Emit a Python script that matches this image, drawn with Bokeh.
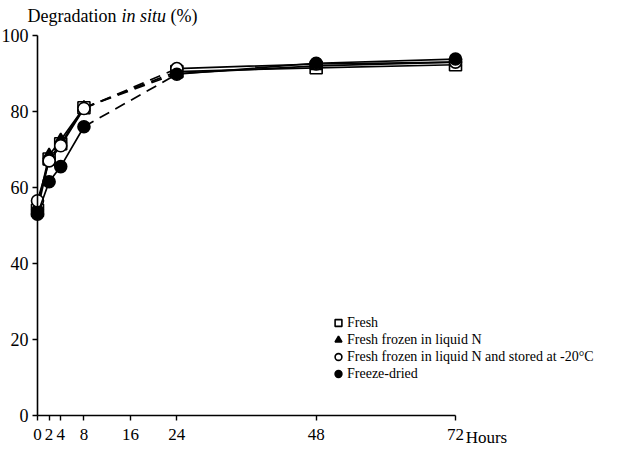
from bokeh.plotting import figure
from bokeh.models import Range1d, LinearAxis, FixedTicker, Label, Legend, LegendItem
from bokeh.embed import file_html
from bokeh.resources import INLINE

# ---- data ----
hours = [0, 2, 4, 8, 24, 48, 72]
fresh = [54.0, 67.5, 71.5, 81.0, 90.5, 91.5, 92.3]
frozen_n = [55.0, 68.5, 72.5, 81.0, 90.0, 92.0, 93.0]
frozen_stored = [56.5, 67.0, 71.0, 80.8, 91.3, 92.5, 93.0]
freeze_dried = [53.0, 61.5, 65.5, 76.0, 89.8, 92.7, 93.8]
series_names = ["Fresh", "Fresh frozen in liquid N",
                "Fresh frozen in liquid N and stored at -20\u00b0C", "Freeze-dried"]
x_ticks = [0, 2, 4, 8, 16, 24, 48, 72]
y_ticks = [0, 20, 40, 60, 80, 100]

FONT = "Liberation Serif"

p = figure(width=629, height=449, min_border=0, title=None,
           x_range=Range1d(-6.373, 101.97), y_range=Range1d(-8.947, 109.21),
           x_axis_location=None, y_axis_location=None,
           toolbar_location=None, output_backend="svg")
p.outline_line_color = None
p.grid.visible = False
p.background_fill_color = "white"

def style_axis(ax):
    ax.axis_line_width = 1.6
    ax.axis_line_color = "black"
    ax.major_tick_line_width = 1.4
    ax.major_tick_line_color = "black"
    ax.major_tick_in = 0
    ax.major_tick_out = 5
    ax.minor_tick_line_color = None
    ax.major_label_text_font = FONT
    ax.major_label_text_font_size = "17px"
    ax.major_label_text_color = "black"

xaxis = LinearAxis(ticker=FixedTicker(ticks=x_ticks), fixed_location=0, bounds=(0, 72))
style_axis(xaxis)
xaxis.major_label_standoff = 8
p.add_layout(xaxis, "below")

yaxis = LinearAxis(ticker=FixedTicker(ticks=y_ticks), fixed_location=0, bounds=(0, 100))
style_axis(yaxis)
yaxis.major_label_text_font_size = "18px"
yaxis.major_label_standoff = 4
p.add_layout(yaxis, "left")

early = slice(0, 4)
gap = slice(3, 5)
late = slice(4, 7)

def add_series(vals, marker, fill):
    for sl, dash in ((early, "solid"), (late, "solid"), (gap, "11 7")):
        p.line(hours[sl], vals[sl], line_color="black", line_width=1.7, line_dash=dash)
    return p.scatter(hours, vals, marker=marker, size=12, line_color="black",
                     line_width=1.6, fill_color=fill)

r_fresh = add_series(fresh, "square", "white")
r_frozen = add_series(frozen_n, "triangle", "black")
r_stored = add_series(frozen_stored, "circle", "white")
r_dried = add_series(freeze_dried, "circle", "black")

legend = Legend(items=[LegendItem(label=series_names[0], renderers=[r_fresh]),
                       LegendItem(label=series_names[1], renderers=[r_frozen]),
                       LegendItem(label=series_names[2], renderers=[r_stored]),
                       LegendItem(label=series_names[3], renderers=[r_dried])],
                location=(329, 67), padding=0, margin=0, spacing=0,
                glyph_width=18, glyph_height=17, label_standoff=0, label_height=17,
                border_line_color=None, background_fill_alpha=0,
                label_text_font=FONT, label_text_font_size="14px",
                label_text_color="black")
p.add_layout(legend, "center")

# title text: "Degradation in situ (%)"
p.add_layout(Label(x=-1.722, y=105.26, text="Degradation", text_font=FONT,
                   text_font_size="18px", text_baseline="middle", text_color="black"))
p.add_layout(Label(x=14.47, y=105.26, text="in situ", text_font=FONT, text_font_style="italic",
                   text_font_size="18px", text_baseline="middle", text_color="black"))
p.add_layout(Label(x=22.90, y=105.26, text="(%)", text_font=FONT,
                   text_font_size="18px", text_baseline="middle", text_color="black"))
# x-axis unit label
p.add_layout(Label(x=73.75, y=-5.9, text="Hours", text_font=FONT,
                   text_font_size="17px", text_baseline="middle", text_color="black"))

open("out.html", "w").write(file_html(p, INLINE))
